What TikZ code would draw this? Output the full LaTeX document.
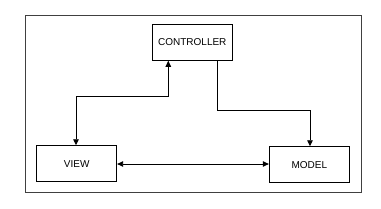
\documentclass[tikz,border=0pt]{standalone}
\usepackage{fontspec}
\setmainfont{Liberation Sans}
\usetikzlibrary{arrows.meta}
\begin{document}
\begin{tikzpicture}[x=1pt,y=-1pt,
  box/.style={draw,line width=0.9pt,minimum width=80pt,minimum height=36pt,inner sep=0pt,font=\fontsize{10}{12}\selectfont},
  conn/.style={line width=0.9pt,arrows={-Triangle[length=6pt,width=5.5pt]}},
  both/.style={line width=0.9pt,arrows={Triangle[length=6pt,width=5.5pt]-Triangle[length=6pt,width=5.5pt]}}]
\useasboundingbox (0,0) rectangle (381,209);
\draw[line width=0.9pt,draw=black!75] (25.7,15.7) rectangle (361,192.7);
\node[box] (ctrl) at (192.3,42.3) {CONTROLLER};
\node[box] (view) at (76.7,163.7) {VIEW};
\node[box] (model) at (309.3,164.7) {MODEL};
\coordinate (a1) at (168.3,96.7);
\coordinate (a2) at (76,96.7);
\draw[both] (ctrl.south -| a1) -- (a1) -- (a2) -- (view.north -| a2);
\coordinate (b1) at (217.3,110.7);
\coordinate (b2) at (310,110.7);
\draw[conn] (ctrl.south -| b1) -- (b1) -- (b2) -- (model.north -| b2);
\draw[both] (view.east |- 0,164) -- (model.west |- 0,164);
\end{tikzpicture}
\end{document}
